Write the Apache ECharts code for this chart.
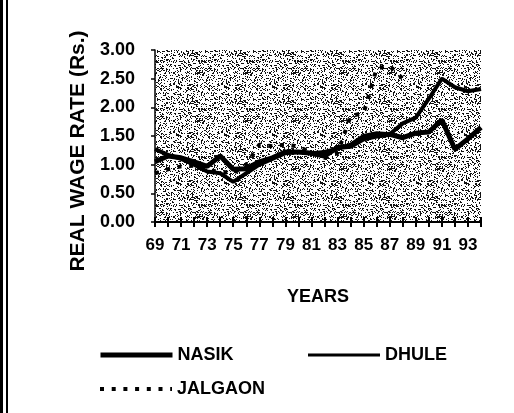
<!DOCTYPE html>
<html>
<head>
<meta charset="utf-8">
<script src="https://cdn.jsdelivr.net/npm/echarts@6/dist/echarts.min.js"></script>
<style>
  html, body { margin: 0; padding: 0; background: #fff; }
  #main { width: 514px; height: 413px; }
</style>
</head>
<body>
<div id="main"></div>
<script>
// years on the x axis (19xx)
var years = ['69','70','71','72','73','74','75','76','77','78','79','80','81',
  '82','83','84','85','86','87','88','89','90','91','92','93','94'];

// real wage rate (Rs.)
var nasik = [1.05, 1.15, 1.12, 1.05, 0.97, 1.15, 0.92, 0.93, 1.05, 1.12, 1.22, 1.22, 1.20,
  1.15, 1.30, 1.32, 1.45, 1.50, 1.53, 1.47, 1.55, 1.57, 1.78, 1.27, 1.45, 1.65];
var dhule = [1.27, 1.17, 1.10, 1.00, 0.88, 0.85, 0.70, 0.85, 1.00, 1.10, 1.20, 1.22, 1.20,
  1.22, 1.28, 1.35, 1.50, 1.55, 1.53, 1.72, 1.82, 2.15, 2.50, 2.35, 2.28, 2.32];
var jalgaon = [0.85, 0.92, 0.97, 0.98, 0.90, 0.88, 0.85, 1.00, 1.35, 1.32, 1.35, 1.32, 1.20,
  1.12, 1.20, 1.85, 1.90, 2.68, 2.72, 2.50, null, null, null, null, null, null];

var FONT = "'Liberation Sans', Arial, sans-serif";

// stipple texture for the plot area (hashed dots so no grid shows)
function stipple() {
  var n = 48;
  var c = document.createElement('canvas');
  c.width = n; c.height = n;
  var ctx = c.getContext('2d');
  ctx.fillStyle = '#fff';
  ctx.fillRect(0, 0, n, n);
  ctx.fillStyle = '#111';
  for (var x = 0; x < n; x++) {
    for (var y = 0; y < n; y++) {
      var h = Math.sin(x * 12.9898 + y * 78.233) * 43758.5453;
      h = h - Math.floor(h);
      if (h < 0.28) ctx.fillRect(x, y, 1, 1);
    }
  }
  return c;
}

var legendText = { color: '#000', fontFamily: FONT, fontWeight: 'bold', fontSize: 18 };

var chart = echarts.init(document.getElementById('main'));

chart.setOption({
  backgroundColor: '#fff',
  animation: false,
  grid: {
    left: 155, right: 33, top: 50, bottom: 191,
    show: true,
    borderWidth: 0,
    backgroundColor: { image: stipple(), repeat: 'repeat' }
  },
  legend: [
    {
      left: 93, top: 341,
      itemWidth: 72, itemHeight: 14, itemGap: 73,
      itemStyle: { opacity: 0 },
      data: [
        { name: 'NASIK', lineStyle: { width: 5 } },
        { name: 'DHULE', lineStyle: { width: 3 } }
      ],
      textStyle: legendText
    },
    {
      left: 93, top: 375,
      itemWidth: 72, itemHeight: 14,
      itemStyle: { opacity: 0 },
      data: [{ name: 'JALGAON', lineStyle: { width: 4, type: [4, 7.7] } }],
      textStyle: legendText
    }
  ],
  xAxis: [
    {
      type: 'category',
      data: years,
      boundaryGap: false,
      name: 'YEARS',
      nameLocation: 'middle',
      nameGap: 66,
      nameTextStyle: { color: '#000', fontFamily: FONT, fontWeight: 'bold', fontSize: 18 },
      axisLine: { lineStyle: { color: '#000', width: 2 } },
      axisTick: { interval: 0, length: 5, lineStyle: { color: '#000', width: 2 } },
      axisLabel: {
        interval: 1, color: '#000', fontFamily: FONT, fontWeight: 'bold',
        fontSize: 17, margin: 15
      },
      splitLine: { show: false }
    },
    {
      type: 'category',
      data: years,
      boundaryGap: false,
      position: 'bottom',
      axisLine: { show: false },
      axisTick: { interval: 0, inside: true, length: 5, lineStyle: { color: '#000', width: 2 } },
      axisLabel: { show: false },
      splitLine: { show: false }
    }
  ],
  yAxis: {
    type: 'value',
    min: 0, max: 3, interval: 0.5,
    name: 'REAL WAGE RATE (Rs.)',
    nameLocation: 'middle',
    nameGap: 66,
    nameTextStyle: {
      color: '#000', fontFamily: FONT, fontWeight: 'bold', fontSize: 21,
      padding: [0, 30, 0, 0]
    },
    axisLine: { show: true, lineStyle: { color: '#000', width: 1.5 } },
    axisTick: { show: true, length: 4, lineStyle: { color: '#000', width: 1.5 } },
    axisLabel: {
      color: '#000', fontFamily: FONT, fontWeight: 'bold', fontSize: 18, margin: 20,
      formatter: function (v) { return v.toFixed(2); }
    },
    splitLine: { show: false }
  },
  series: [
    {
      name: 'JALGAON', type: 'line', data: jalgaon, symbol: 'none', connectNulls: false,
      lineStyle: { color: '#000', width: 4, type: [4, 7.7] },
      itemStyle: { color: '#000' }, z: 2
    },
    {
      name: 'DHULE', type: 'line', data: dhule, symbol: 'none',
      lineStyle: { color: '#000', width: 4 },
      itemStyle: { color: '#000' }, z: 3
    },
    {
      name: 'NASIK', type: 'line', data: nasik, symbol: 'none',
      lineStyle: { color: '#000', width: 5 },
      itemStyle: { color: '#000' }, z: 4
    }
  ],
  graphic: [
    { type: 'rect', shape: { x: 0, y: 0, width: 3, height: 413 }, style: { fill: '#000' } },
    { type: 'rect', shape: { x: 6, y: 0, width: 2, height: 413 }, style: { fill: '#000' } }
  ]
});
</script>
</body>
</html>
